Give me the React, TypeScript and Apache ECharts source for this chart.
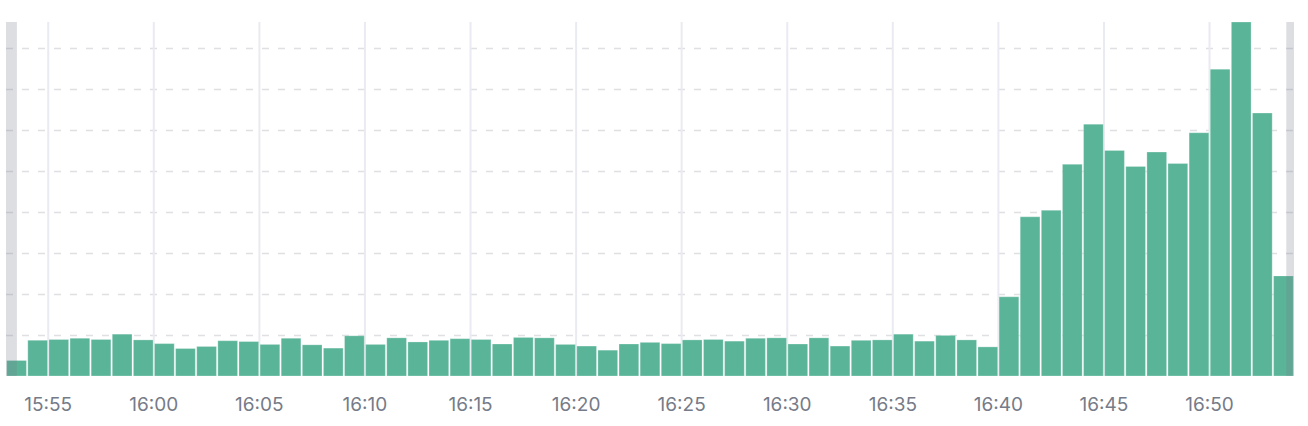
import React, { useEffect, useRef } from "react";
import * as echarts from "echarts";

// Per-minute buckets (bar starts at the given minute, lasts one minute)
const minuteLabels = [
  "15:53", "15:54", "15:55", "15:56", "15:57", "15:58", "15:59",
  "16:00", "16:01", "16:02", "16:03", "16:04", "16:05", "16:06", "16:07", "16:08", "16:09",
  "16:10", "16:11", "16:12", "16:13", "16:14", "16:15", "16:16", "16:17", "16:18", "16:19",
  "16:20", "16:21", "16:22", "16:23", "16:24", "16:25", "16:26", "16:27", "16:28", "16:29",
  "16:30", "16:31", "16:32", "16:33", "16:34", "16:35", "16:36", "16:37", "16:38", "16:39",
  "16:40", "16:41", "16:42", "16:43", "16:44", "16:45", "16:46", "16:47", "16:48", "16:49",
  "16:50", "16:51", "16:52", "16:53",
];

const counts = [
  38, 87, 89, 92, 89, 102, 88,
  79, 67, 72, 86, 84, 77, 92, 76, 68, 98,
  77, 93, 83, 87, 91, 89, 78, 94, 93, 77,
  73, 63, 78, 82, 79, 88, 89, 85, 92, 93,
  78, 93, 73, 87, 88, 102, 85, 99, 88, 71,
  193, 388, 404, 516, 614, 550, 511, 546, 518, 593,
  748, 863, 641, 244,
];

const tickLabels = [
  "15:55", "16:00", "16:05", "16:10", "16:15", "16:20",
  "16:25", "16:30", "16:35", "16:40", "16:45", "16:50",
];

const axisStart = "15:53";
const axisEnd = "16:54";
// Selected window; outside of it is shaded
const windowStart = "15:53:31";
const windowEnd = "16:53:38";

const toMinutes = (s: string) => {
  const [h, m, sec] = s.split(":").map(Number);
  return h * 60 + m + (sec || 0) / 60;
};
const fmt = (v: number) => {
  const h = Math.floor(v / 60);
  const m = Math.round(v - h * 60);
  return `${h}:${m < 10 ? "0" + m : m}`;
};

export default function App() {
  const ref = useRef<HTMLDivElement>(null);

  useEffect(() => {
    if (!ref.current) return;
    const chart = echarts.init(ref.current, undefined, { renderer: "svg" });
    const maxValue = Math.max(...counts);
    const barData = minuteLabels.map((t, i) => [toMinutes(t), counts[i]]);
    const lineData = tickLabels.map((t) => [toMinutes(t), 0]);
    const shadeData = [
      [toMinutes(axisStart), toMinutes(windowStart), 0],
      [toMinutes(windowEnd), toMinutes(axisEnd), 0],
    ];

    chart.setOption({
      animation: false,
      grid: { left: 6, right: 14, top: 22, bottom: 50 },
      xAxis: {
        type: "value",
        min: toMinutes(axisStart),
        max: toMinutes(axisEnd),
        interval: 1,
        axisLine: { show: false },
        axisTick: { show: false },
        splitLine: { show: false },
        axisLabel: {
          margin: 19,
          color: "#767b88",
          fontSize: 19,
          fontFamily: "Inter, 'Noto Sans', sans-serif",
          formatter: (v: number) => (tickLabels.includes(fmt(v)) ? fmt(v) : ""),
        },
      },
      yAxis: {
        type: "value",
        min: 0,
        max: maxValue,
        interval: 100,
        axisLine: { show: false },
        axisTick: { show: false },
        axisLabel: { show: false },
        splitLine: {
          show: true,
          showMinLine: false,
          showMaxLine: false,
          lineStyle: { color: "#dfe0e4", type: [7, 9], width: 1.3 },
        },
      },
      series: [
        {
          type: "custom",
          z: 1,
          silent: true,
          data: lineData,
          encode: { x: 0, y: 1 },
          renderItem: (params: any, api: any) => {
            const cs = params.coordSys;
            const x = api.coord([api.value(0), 0])[0];
            return {
              type: "line",
              shape: { x1: x, y1: cs.y, x2: x, y2: cs.y + cs.height },
              style: { stroke: "#eaeaf2", lineWidth: 2 },
            };
          },
        },
        {
          type: "custom",
          z: 2,
          data: barData,
          encode: { x: 0, y: 1 },
          renderItem: (params: any, api: any) => {
            const t = api.value(0);
            const v = api.value(1);
            const p0 = api.coord([t, v]);
            const p1 = api.coord([t + 1, 0]);
            const gap = 1.4;
            return {
              type: "rect",
              shape: {
                x: p0[0] + gap / 2,
                y: p0[1],
                width: p1[0] - p0[0] - gap,
                height: p1[1] - p0[1],
              },
              style: {
                fill: "#5ab498",
                stroke: "rgba(255,255,255,0.25)",
                lineWidth: 1,
              },
            };
          },
        },
        {
          type: "custom",
          z: 3,
          silent: true,
          data: shadeData,
          encode: { x: [0, 1], y: 2 },
          renderItem: (params: any, api: any) => {
            const cs = params.coordSys;
            const x0 = api.coord([api.value(0), 0])[0];
            const x1 = api.coord([api.value(1), 0])[0];
            return {
              type: "rect",
              shape: { x: x0, y: cs.y, width: x1 - x0, height: cs.height },
              style: { fill: "rgba(120,124,140,0.25)" },
            };
          },
        },
      ],
    });

    return () => chart.dispose();
  }, []);

  return (
    <div
      ref={ref}
      style={{ position: "fixed", left: 0, top: 0, width: 1308, height: 426, background: "#fff" }}
    />
  );
}
